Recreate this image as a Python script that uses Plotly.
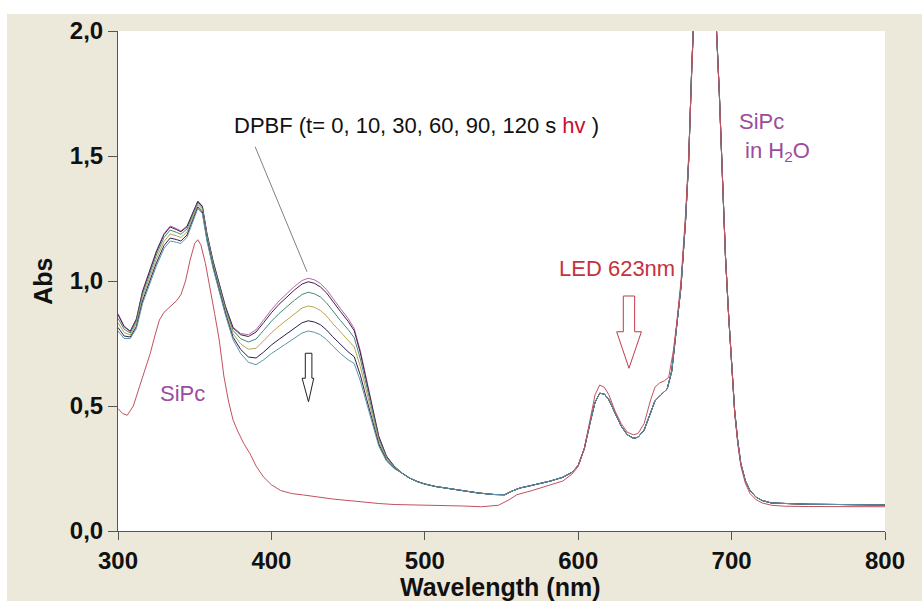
import plotly.graph_objects as go

# ---------------- data ----------------
wl_uv = [300, 304, 308, 312, 316, 320, 325, 330, 334, 338, 341, 345, 349, 352, 355, 358,
         362, 366, 370, 375, 380, 385, 390, 395, 400, 405, 410, 415, 420, 424, 428, 432,
         436, 440, 445, 450, 454, 458, 462, 466, 470, 475, 480]

dpbf_t0 = [0.870, 0.820, 0.800, 0.850, 0.960, 1.030, 1.120, 1.190, 1.220, 1.210, 1.200, 1.220,
           1.280, 1.320, 1.300, 1.190, 1.080, 0.990, 0.900, 0.815, 0.790, 0.785, 0.805, 0.845,
           0.885, 0.920, 0.950, 0.978, 1.002, 1.011, 1.005, 0.990, 0.965, 0.930, 0.890, 0.850,
           0.810, 0.720, 0.610, 0.490, 0.380, 0.300, 0.260]
dpbf_t10 = [0.865, 0.817, 0.798, 0.847, 0.957, 1.026, 1.116, 1.186, 1.216, 1.206, 1.197, 1.217,
            1.278, 1.318, 1.298, 1.188, 1.078, 0.988, 0.898, 0.812, 0.785, 0.778, 0.796, 0.834,
            0.873, 0.907, 0.937, 0.964, 0.988, 0.997, 0.991, 0.976, 0.952, 0.917, 0.878, 0.839,
            0.801, 0.712, 0.603, 0.485, 0.377, 0.299, 0.259]
dpbf_t30 = [0.851, 0.807, 0.792, 0.839, 0.947, 1.015, 1.104, 1.174, 1.204, 1.195, 1.187, 1.208,
            1.271, 1.312, 1.292, 1.182, 1.072, 0.982, 0.891, 0.802, 0.769, 0.756, 0.768, 0.803,
            0.839, 0.870, 0.897, 0.923, 0.946, 0.955, 0.949, 0.936, 0.912, 0.880, 0.842, 0.806,
            0.773, 0.688, 0.584, 0.471, 0.369, 0.295, 0.257]
dpbf_t60 = [0.833, 0.794, 0.784, 0.829, 0.934, 1.001, 1.088, 1.158, 1.188, 1.181, 1.174, 1.196,
            1.262, 1.304, 1.284, 1.174, 1.064, 0.974, 0.882, 0.789, 0.748, 0.727, 0.731, 0.761,
            0.793, 0.820, 0.845, 0.869, 0.892, 0.900, 0.895, 0.882, 0.860, 0.830, 0.795, 0.763,
            0.736, 0.657, 0.557, 0.453, 0.359, 0.289, 0.255]
dpbf_t90 = [0.814, 0.780, 0.776, 0.818, 0.920, 0.986, 1.072, 1.142, 1.172, 1.166, 1.160, 1.184,
            1.252, 1.296, 1.276, 1.166, 1.056, 0.966, 0.872, 0.775, 0.726, 0.696, 0.692, 0.716,
            0.744, 0.767, 0.789, 0.811, 0.833, 0.841, 0.836, 0.825, 0.804, 0.777, 0.745, 0.717,
            0.697, 0.623, 0.529, 0.434, 0.348, 0.284, 0.252]
dpbf_t120 = [0.800, 0.770, 0.770, 0.810, 0.910, 0.975, 1.060, 1.130, 1.160, 1.155, 1.150, 1.175,
             1.245, 1.290, 1.270, 1.160, 1.050, 0.960, 0.865, 0.765, 0.710, 0.675, 0.665, 0.685,
             0.710, 0.730, 0.750, 0.771, 0.792, 0.800, 0.795, 0.785, 0.765, 0.740, 0.710, 0.685,
             0.670, 0.600, 0.510, 0.420, 0.340, 0.280, 0.250]

# common part of the DPBF+SiPc spectra (curves coincide beyond 480 nm)
wl_tail = [485, 490, 495, 500, 507, 515, 525, 535, 545, 552, 557, 562, 568, 575, 582, 590,
           596, 600, 604, 608, 611, 614, 617, 620, 624, 628, 632, 636, 639, 643, 647, 650,
           654, 658, 661, 664, 667, 670, 672, 674, 676, 680, 684, 688, 690, 692, 694, 696,
           698, 700, 702, 704, 706, 709, 712, 716, 720, 726, 735, 750, 770, 800]
dpbf_tail = [0.232, 0.212, 0.198, 0.188, 0.178, 0.170, 0.160, 0.152, 0.146, 0.145, 0.160, 0.172,
             0.180, 0.190, 0.200, 0.215, 0.235, 0.262, 0.330, 0.440, 0.515, 0.551, 0.548, 0.525,
             0.470, 0.420, 0.385, 0.371, 0.375, 0.404, 0.470, 0.520, 0.545, 0.568, 0.640, 0.800,
             0.977, 1.244, 1.480, 1.850, 2.150, 2.400, 2.450, 2.300, 2.050, 1.750, 1.420, 1.100,
             0.870, 0.650, 0.480, 0.360, 0.270, 0.200, 0.162, 0.135, 0.122, 0.112, 0.109, 0.107,
             0.106, 0.104]

times = ["0", "10", "30", "60", "90", "120"]
dpbf_series = [dpbf_t0, dpbf_t10, dpbf_t30, dpbf_t60, dpbf_t90, dpbf_t120]
dpbf_colors = ["#b067b0", "#4a1a4a", "#3d8c78", "#b8a450", "#2c2050", "#5a96ac"]

wl_sipc = [300, 303, 306, 310, 314, 318, 321, 324, 327, 330, 334, 338, 341, 344, 347, 350, 352,
           354, 357, 360, 363, 366, 369, 372, 375, 378, 382, 386, 390, 395, 400, 406, 413, 421,
           430, 440, 450, 460, 470, 480, 495, 510, 525, 537, 548, 555, 560, 570, 580, 590, 596,
           600, 604, 608, 611, 614, 617, 620, 624, 628, 632, 636, 639, 643, 647, 650, 653, 656,
           659, 662, 664, 667, 670, 672, 674, 676, 680, 684, 688, 690, 692, 694, 696, 698, 700,
           702, 704, 706, 709, 712, 716, 720, 726, 735, 750, 770, 800]
sipc = [0.490, 0.470, 0.463, 0.500, 0.577, 0.650, 0.710, 0.780, 0.844, 0.875, 0.897, 0.920,
        0.945, 1.000, 1.084, 1.150, 1.165, 1.145, 1.070, 0.977, 0.870, 0.764, 0.620, 0.520,
        0.444, 0.400, 0.350, 0.310, 0.260, 0.215, 0.185, 0.162, 0.150, 0.144, 0.136, 0.128,
        0.122, 0.115, 0.110, 0.106, 0.104, 0.104, 0.100, 0.097, 0.103, 0.125, 0.145, 0.162,
        0.180, 0.200, 0.228, 0.258, 0.330, 0.460, 0.545, 0.584, 0.575, 0.545, 0.480, 0.430,
        0.395, 0.385, 0.390, 0.430, 0.520, 0.575, 0.592, 0.600, 0.615, 0.720, 0.820, 1.000,
        1.270, 1.500, 1.870, 2.150, 2.400, 2.450, 2.300, 2.050, 1.750, 1.420, 1.100, 0.870,
        0.650, 0.470, 0.350, 0.260, 0.190, 0.150, 0.125, 0.112, 0.103, 0.099, 0.098, 0.097,
        0.097]
sipc_color = "#c4505e"

x_ticks = [300, 400, 500, 600, 700, 800]
y_ticks = [0.0, 0.5, 1.0, 1.5, 2.0]
y_ticktext = ["0,0", "0,5", "1,0", "1,5", "2,0"]

# ---------------- figure ----------------
fig = go.Figure()
for t, ys, c in zip(times, dpbf_series, dpbf_colors):
    fig.add_trace(go.Scatter(x=wl_uv + wl_tail, y=ys + dpbf_tail, mode="lines",
                             line=dict(color=c, width=1), name=f"t={t} s"))
fig.add_trace(go.Scatter(x=wl_sipc, y=sipc, mode="lines",
                         line=dict(color=sipc_color, width=1), name="SiPc"))

tick_font = dict(family="Liberation Sans, Arial", size=24, color="#111", weight="bold")
title_font = dict(family="Liberation Sans, Arial", size=25, color="#111", weight="bold")
text_font = dict(family="Liberation Sans, Arial", size=22, color="#111")

beige = "#ECE9DA"
shapes = [
    dict(type="rect", xref="paper", yref="paper", x0=-0.1447, x1=1.06, y0=-0.16, y1=1.034,
         fillcolor=beige, line=dict(width=0), layer="below"),
    dict(type="rect", xref="paper", yref="paper", x0=0, x1=1, y0=0, y1=1,
         fillcolor="white", line=dict(width=0), layer="below"),
    # pointer line from the DPBF label to the curves
    dict(type="line", xref="x", yref="y", x0=389.4, y0=1.537, x1=423.2, y1=1.037,
         line=dict(color="#808080", width=1)),
    # hollow black arrow (DPBF decrease)
    dict(type="path", xref="x", yref="y",
         path="M 422.1,0.711 L 426.4,0.711 L 426.4,0.611 L 427.6,0.611 L 424.2,0.517 "
              "L 420.0,0.611 L 422.1,0.611 Z",
         fillcolor="white", line=dict(color="#222", width=1)),
    # hollow red arrow (LED)
    dict(type="path", xref="x", yref="y",
         path="M 629.4,0.940 L 636.8,0.940 L 636.8,0.797 L 641.2,0.797 L 633.1,0.651 "
              "L 625.1,0.797 L 629.4,0.797 Z",
         fillcolor="white", line=dict(color="#c23a48", width=1)),
]

annotations = [
    dict(xref="x", yref="y", x=374.4, y=1.624, xanchor="left", yanchor="middle",
         showarrow=False, font=text_font,
         text="DPBF (t= 0, 10, 30, 60, 90, 120 s <span style='color:#c8102e'>hv</span> )"),
    dict(xref="x", yref="y", x=586.5, y=1.052, xanchor="left", yanchor="middle",
         showarrow=False, font=dict(family="Liberation Sans, Arial", size=22, color="#c8303e"),
         text="LED 623nm"),
    dict(xref="x", yref="y", x=326.3, y=0.551, xanchor="left", yanchor="middle",
         showarrow=False, font=dict(family="Liberation Sans, Arial", size=22, color="#9a4c9e"),
         text="SiPc"),
    dict(xref="x", yref="y", x=703.5, y=1.576, xanchor="left", yanchor="middle",
         showarrow=False, align="left",
         font=dict(family="Liberation Sans, Arial", size=22, color="#9a4c9e"),
         text="SiPc<br> in H<sub>2</sub>O"),
    dict(xref="paper", yref="paper", x=0.498, y=-0.112, xanchor="center", yanchor="middle",
         showarrow=False, font=title_font, text="Wavelength (nm)"),
    dict(xref="paper", yref="paper", x=-0.098, y=0.5, xanchor="center", yanchor="middle",
         showarrow=False, font=title_font, text="Abs", textangle=-90),
]

fig.update_layout(
    width=922, height=601,
    margin=dict(l=118, r=37, t=31, b=70),
    paper_bgcolor="white", plot_bgcolor="white",
    showlegend=False,
    shapes=shapes, annotations=annotations,
)
fig.update_xaxes(range=[300, 800], tickvals=x_ticks, ticks="outside", ticklen=8,
                 tickcolor="#555", tickwidth=1, showline=True, linecolor="#555", linewidth=1,
                 showgrid=False, zeroline=False, tickfont=tick_font)
fig.update_yaxes(range=[0, 2], tickvals=y_ticks, ticktext=y_ticktext, ticks="outside",
                 ticklen=9, tickcolor="#555", tickwidth=1, showline=True, linecolor="#555",
                 linewidth=1, showgrid=False, zeroline=False, tickfont=tick_font)

fig.write_html("out.html")
